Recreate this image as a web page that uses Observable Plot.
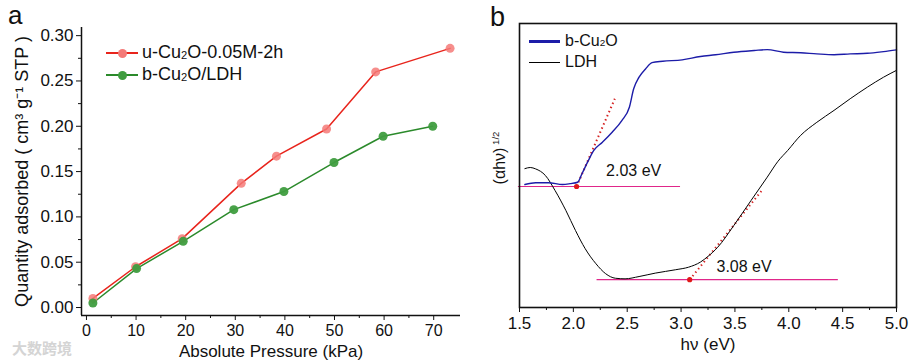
<!DOCTYPE html>
<html>
<head>
<meta charset="utf-8">
<script src="https://cdn.jsdelivr.net/npm/d3@7"></script>
<script src="https://cdn.jsdelivr.net/npm/@observablehq/plot@0.6"></script>
<style>
  html, body { margin: 0; padding: 0; background: #fff; }
  #wrap { position: relative; width: 909px; height: 361px; overflow: hidden; font-family: "Liberation Sans", Arial, sans-serif; color: #111; }
  .panel { position: absolute; top: 0; }
  .ov { position: absolute; white-space: nowrap; line-height: 1.15; }
  .sub { font-size: 0.62em; vertical-align: -0.05em; }
  .lg-line { position: absolute; }
</style>
</head>
<body>
<div id="wrap">
  <div id="pa" class="panel" style="left:0"></div>
  <div id="pb" class="panel" style="left:460px"></div>
</div>
<script>
// ---------- Panel a data ----------
const pressureU = [1.3, 9.9, 19.3, 31.2, 38.3, 48.4, 58.3, 73.3];
const adsorbedU = [0.010, 0.045, 0.076, 0.137, 0.167, 0.197, 0.260, 0.286];
const pressureB = [1.3, 10.1, 19.5, 29.7, 39.8, 49.9, 59.8, 69.8];
const adsorbedB = [0.005, 0.043, 0.073, 0.108, 0.128, 0.160, 0.189, 0.200];
const seriesA = ["u-Cu2O-0.05M-2h", "b-Cu2O/LDH"];
const xTicksA = [0, 10, 20, 30, 40, 50, 60, 70];
const yTicksA = [0, 0.05, 0.10, 0.15, 0.20, 0.25, 0.30];

// ---------- Panel b data ----------
const hvCu2O = [1.55,1.65,1.77,1.90,1.97,2.04,2.08,2.14,2.19,2.27,2.36,2.45,2.52,2.56,2.61,2.67,2.73,2.83,3.01,3.18,3.32,3.49,3.68,3.80,3.95,4.11,4.26,4.42,4.57,4.73,4.88,5.00];
const absCu2O = [43.3,43.9,43.9,43.3,43.6,44.1,47.1,51.8,55.3,58.2,61.7,65.8,70.5,77.0,81.1,84.0,86.2,86.7,87.2,88.4,89.0,89.9,90.5,90.8,89.9,89.7,89.3,89.0,89.3,89.5,90.1,90.7];
const hvLDH = [1.55,1.60,1.65,1.74,1.83,1.93,2.02,2.11,2.21,2.30,2.39,2.48,2.61,2.76,2.95,3.07,3.18,3.25,3.34,3.49,3.65,3.80,3.90,3.99,4.11,4.26,4.42,4.57,4.73,4.88,5.00];
const absLDH = [48.9,49.3,48.8,46.5,41.2,34.2,27.1,20.7,15.4,11.9,10.3,10.1,10.9,12.1,13.3,14.2,16.0,18.0,21.2,28.9,37.7,45.9,51.5,55.3,60.6,65.2,69.4,73.5,77.6,81.1,83.5];
const seriesB = ["b-Cu2O", "LDH"];
const baselineX1 = [1.49, 2.995];  const baselineY1 = 42.6;
const baselineX2 = [2.22, 4.46];   const baselineY2 = 9.8;
const tangentX1 = [2.03, 2.385];   const tangentY1 = [42.6, 73.5];
const tangentX2 = [3.08, 3.763];   const tangentY2 = [9.8, 41.8];
const gapValues = [2.03, 3.08];
const gapLabels = ["2.03 eV", "3.08 eV"];
const gapLabelX = [2.56, 3.585];
const gapLabelY = [48.2, 14.3];
const xTicksB = [1.5, 2.0, 2.5, 3.0, 3.5, 4.0, 4.5, 5.0];

const FONT = "'Liberation Sans', Arial, sans-serif";
const RED = "#e8241c", RED_PT = "#f47a78", GREEN = "#2b8a2b", GREEN_PT = "#3f9d3f";
const BLUE = "#1c1ca8", MAGENTA = "#e0268a", DOTRED = "#d42222";

// ---------- Panel a ----------
const dataU = pressureU.map((p, i) => ({x: p, y: adsorbedU[i], s: seriesA[0]}));
const dataB = pressureB.map((p, i) => ({x: p, y: adsorbedB[i], s: seriesA[1]}));
const xDomA = [-1, 75.4], yDomA = [-0.0088, 0.309];
const minorXA = d3.range(5, 75, 10);
const minorYA = d3.range(0.025, 0.30, 0.05);

const plotA = Plot.plot({
  width: 460, height: 361,
  marginLeft: 81, marginRight: 0, marginTop: 27, marginBottom: 46,
  style: {fontFamily: FONT, color: "#111", background: "transparent"},
  x: {domain: xDomA},
  y: {domain: yDomA},
  marks: [
    Plot.axisY({ticks: yTicksA, tickFormat: d3.format(".2f"), tickSize: 5, tickPadding: 3, fontSize: 17, label: null}),
    Plot.axisY({ticks: [], tickSize: 0, fontSize: 18,
      label: "Quantity adsorbed ( cm³ g⁻¹ STP )", labelAnchor: "center", labelOffset: 66, labelArrow: "none"}),
    Plot.axisY({ticks: minorYA, tickSize: 3, text: null, label: null}),
    Plot.axisX({ticks: xTicksA, tickSize: 5, tickPadding: 4, fontSize: 16, label: null}),
    Plot.axisX({ticks: [], tickSize: 0, fontSize: 17,
      label: "Absolute Pressure (kPa)", labelAnchor: "center", labelOffset: 41, labelArrow: "none"}),
    Plot.axisX({ticks: minorXA, tickSize: 3, text: null, label: null}),
    Plot.ruleX([xDomA[0]], {stroke: "#111", strokeWidth: 1.5}),
    Plot.ruleY([yDomA[0]], {stroke: "#111", strokeWidth: 1.5}),
    Plot.line(dataU, {x: "x", y: "y", stroke: RED, strokeWidth: 1.5}),
    Plot.line(dataB, {x: "x", y: "y", stroke: GREEN, strokeWidth: 1.5}),
    Plot.dot(dataU, {x: "x", y: "y", r: 4.5, fill: RED_PT, fillOpacity: 0.85, stroke: "none"}),
    Plot.dot(dataB, {x: "x", y: "y", r: 4.5, fill: GREEN_PT, fillOpacity: 0.95, stroke: "none"})
  ]
});
document.getElementById("pa").appendChild(plotA);

// ---------- Panel b ----------
const dataCu = hvCu2O.map((h, i) => ({x: h, y: absCu2O[i]}));
const dataLDH = hvLDH.map((h, i) => ({x: h, y: absLDH[i]}));
const minorXB = d3.range(1.75, 5.0, 0.5);
const baselines = [
  {x1: baselineX1[0], x2: baselineX1[1], y: baselineY1},
  {x1: baselineX2[0], x2: baselineX2[1], y: baselineY2}
];
const tangents = [
  {x1: tangentX1[0], y1: tangentY1[0], x2: tangentX1[1], y2: tangentY1[1]},
  {x1: tangentX2[0], y1: tangentY2[0], x2: tangentX2[1], y2: tangentY2[1]}
];
const gapPts = [{x: gapValues[0], y: baselineY1}, {x: gapValues[1], y: baselineY2}];
const gapTxt = gapLabels.map((t, i) => ({t, x: gapLabelX[i], y: gapLabelY[i]}));

const plotB = Plot.plot({
  width: 449, height: 361,
  marginLeft: 59, marginRight: 13, marginTop: 23, marginBottom: 54,
  style: {fontFamily: FONT, color: "#111", background: "transparent"},
  x: {domain: [1.5, 5.0]},
  y: {domain: [0, 100], axis: null},
  marks: [
    Plot.axisX({ticks: xTicksB, tickFormat: d3.format(".1f"), tickSize: 5, tickPadding: 4, fontSize: 17,
      label: "hν (eV)", labelAnchor: "center", labelOffset: 42, labelArrow: "none"}),
    Plot.axisX({ticks: minorXB, tickSize: 3, text: null, label: null}),
    Plot.ruleY(baselines, {x1: "x1", x2: "x2", y: "y", stroke: MAGENTA, strokeWidth: 1.2}),
    Plot.link(tangents, {x1: "x1", y1: "y1", x2: "x2", y2: "y2", stroke: DOTRED, strokeWidth: 2, strokeDasharray: "1.5,3"}),
    Plot.line(dataLDH, {x: "x", y: "y", stroke: "#000", strokeWidth: 1, curve: "monotone-x"}),
    Plot.line(dataCu, {x: "x", y: "y", stroke: BLUE, strokeWidth: 1.4, curve: "monotone-x"}),
    Plot.dot(gapPts, {x: "x", y: "y", r: 2.6, fill: "#e01818", stroke: "none"}),
    Plot.text(gapTxt, {x: "x", y: "y", text: "t", fontSize: 16, fill: "#111"}),
    Plot.frame({stroke: "#111", strokeWidth: 1.6})
  ]
});
document.getElementById("pb").appendChild(plotB);

// ---------- Overlays: panel letters, legends, y-label b, watermark ----------
const wrap = document.getElementById("wrap");
function ov(html, style) {
  const d = document.createElement("div");
  d.className = "ov";
  d.innerHTML = html;
  Object.assign(d.style, style);
  wrap.appendChild(d);
  return d;
}
function lgLine(left, top, width, thick, color) {
  const d = document.createElement("div");
  d.className = "lg-line";
  Object.assign(d.style, {left: left + "px", top: (top - thick / 2) + "px", width: width + "px", height: thick + "px", background: color});
  wrap.appendChild(d);
}
function lgDot(cx, cy, r, color) {
  const d = document.createElement("div");
  d.className = "lg-line";
  Object.assign(d.style, {left: (cx - r) + "px", top: (cy - r) + "px", width: 2 * r + "px", height: 2 * r + "px", borderRadius: "50%", background: color});
  wrap.appendChild(d);
}
ov("a", {left: "8px", top: "1px", fontSize: "26px"});
ov("b", {left: "490px", top: "2px", fontSize: "27px"});

// legend a
const legA = [[53, RED, RED_PT], [75, GREEN, GREEN_PT]];
const legAText = ["u-Cu<span class='sub'>2</span>O-0.05M-2h", "b-Cu<span class='sub'>2</span>O/LDH"];
legA.forEach(([y, c, pc], i) => {
  lgLine(106, y, 32, 1.6, c);
  lgDot(122, y, 4.5, pc);
  ov(legAText[i], {left: "142px", top: (y - 11) + "px", fontSize: "18px"});
});
// legend b
lgLine(529, 41.5, 31, 2.4, BLUE);
lgLine(529, 62.5, 31, 1, "#000");
ov("b-Cu<span class='sub'>2</span>O", {left: "565px", top: "32px", fontSize: "16px"});
ov("LDH", {left: "565px", top: "53px", fontSize: "16px"});

// y label b
ov("(αhν)<sup style='font-size:0.6em'> 1/2</sup>", {left: "500px", top: "158px", fontSize: "16px", transform: "translate(-50%,-50%) rotate(-90deg)"});

// watermark
ov("大数跨境", {left: "12px", top: "339px", fontSize: "15px", color: "#d4d4d4", fontFamily: "'Noto Sans CJK SC', sans-serif", fontWeight: "bold"});
</script>
</body>
</html>
